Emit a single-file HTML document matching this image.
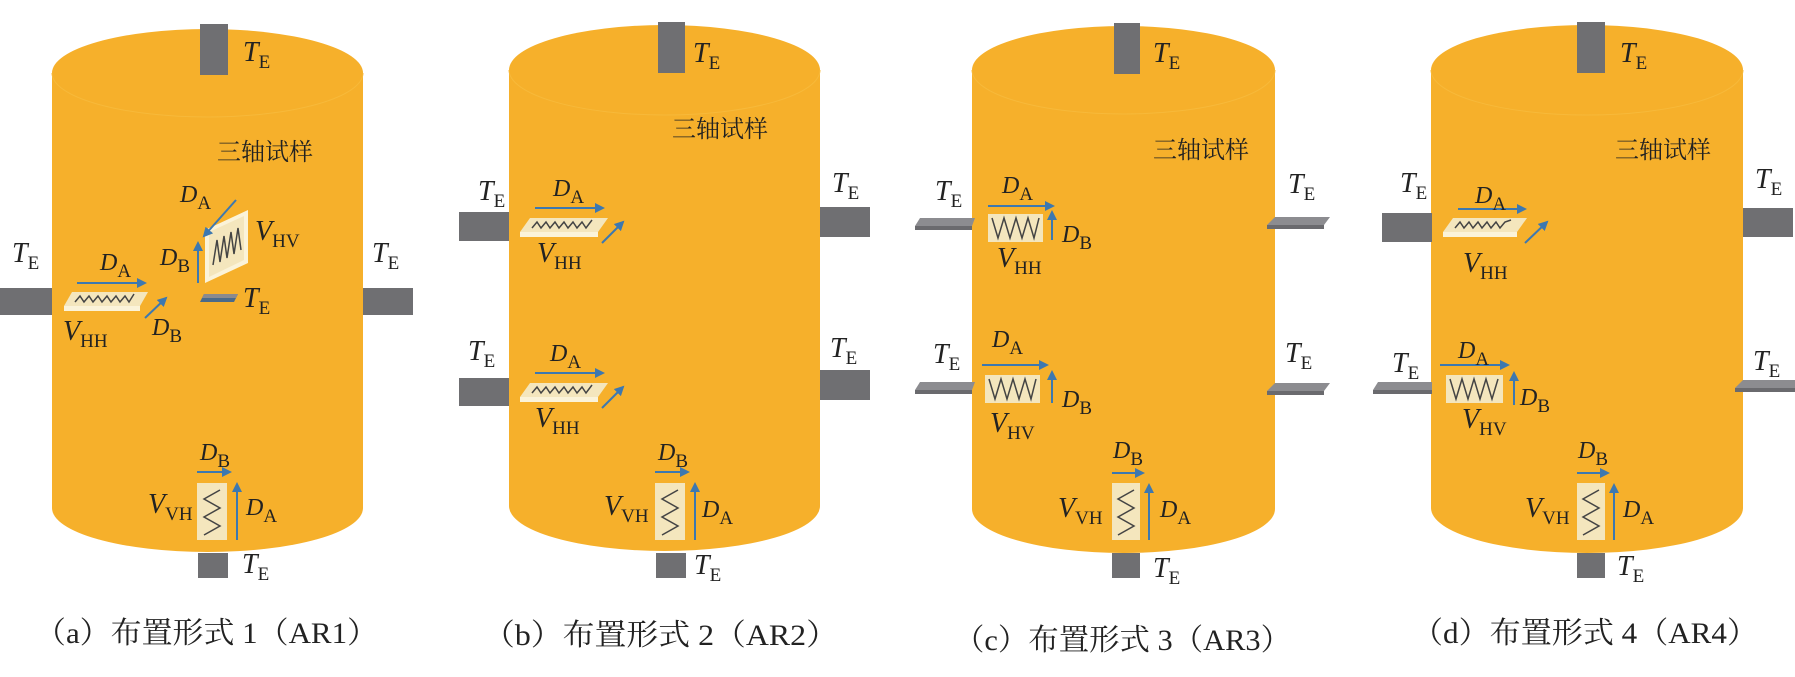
<!DOCTYPE html>
<html><head><meta charset="utf-8"><style>
body{margin:0;background:#fff}
svg{display:block}
.it{font-family:"Liberation Serif",serif;font-style:italic;font-size:28px;fill:#222}
.d{font-family:"Liberation Serif",serif;font-style:italic;font-size:24px;fill:#222}
.s{font-style:normal;font-size:19px}
.cn{font-family:"Liberation Serif","Noto Serif CJK SC",serif;font-size:24px;fill:#222}
.cap{font-family:"Liberation Serif","Noto Serif CJK SC",serif;font-size:30px;fill:#222}
.ar{stroke:#3d78b0;stroke-width:2;fill:none;marker-end:url(#ah)}
.tab{fill:#6f6f72}
.pl{fill:#f4e6bd}
.zz{stroke:#444;stroke-width:1.5;fill:none}
.cyl{fill:#f6b02b}
.rim{fill:none;stroke:#f7b93a;stroke-width:1}
</style></head><body>
<svg width="1795" height="677" viewBox="0 0 1795 677" xmlns="http://www.w3.org/2000/svg">
<defs><marker id="ah" viewBox="0 0 10 10" refX="8" refY="5" markerWidth="5" markerHeight="5" orient="auto"><path d="M0,0L10,5L0,10z" fill="#3d78b0"/></marker></defs>

<!-- ===== (a) ===== -->
<path class="cyl" d="M52,73 L52,508 A155.5,44 0 0 0 363,508 L363,73 A155.5,44 0 0 0 52,73Z"/>
<path class="rim" d="M52,73 A155.5,44 0 0 0 363,73"/>
<rect class="tab" x="200" y="24" width="28" height="51"/>
<text class="it" x="243" y="61">T<tspan class="s" dy="7">E</tspan></text>
<text class="cn" x="217" y="160">三轴试样</text>
<rect class="tab" x="0" y="288" width="52" height="27"/>
<rect class="tab" x="363" y="288" width="50" height="27"/>
<text class="it" x="12" y="262">T<tspan class="s" dy="7">E</tspan></text>
<text class="it" x="372" y="262">T<tspan class="s" dy="7">E</tspan></text>
<polygon class="pl" points="72,292 148,292 140,306 64,306"/>
<rect x="64" y="306" width="76" height="5" fill="#fbf3d9"/>
<polyline class="zz" points="75,302 80,296 84,302 89,296 93,302 98,296 102,302 107,296 111,302 116,296 120,302 125,296 129,302 134,294"/>
<line class="ar" x1="77" y1="283" x2="145" y2="283"/>
<text class="d" x="100" y="270">D<tspan class="s" dy="7">A</tspan></text>
<line class="ar" x1="145" y1="318" x2="166" y2="298"/>
<text class="d" x="152" y="335">D<tspan class="s" dy="7">B</tspan></text>
<text class="it" x="63" y="340">V<tspan class="s" dy="7">HH</tspan></text>
<polygon points="205,230 248,210 248,263 205,283" fill="#fbf3d9"/>
<polygon class="pl" points="209,232 244,216 244,260 209,277"/>
<polyline class="zz" points="213,265 217,240 220,262 224,236 227,258 231,232 234,254 238,228 241,250"/>
<line class="ar" x1="236" y1="200" x2="204" y2="236"/>
<text class="d" x="180" y="202">D<tspan class="s" dy="7">A</tspan></text>
<line class="ar" x1="198" y1="283" x2="198" y2="243"/>
<text class="d" x="160" y="265">D<tspan class="s" dy="7">B</tspan></text>
<text class="it" x="255" y="240">V<tspan class="s" dy="7">HV</tspan></text>
<polygon points="204,294 238,294 234,302 200,302" fill="#4a6a8a"/>
<polygon points="204,294 238,294 236,298 202,298" fill="#8a8a8e"/>
<text class="it" x="243" y="307">T<tspan class="s" dy="7">E</tspan></text>
<rect class="pl" x="197" y="483" width="30" height="57"/>
<polyline class="zz" points="220,490 204,499 220,508 204,517 220,526 204,535"/>
<line class="ar" x1="237" y1="540" x2="237" y2="484"/>
<line class="ar" x1="197" y1="472" x2="230" y2="472"/>
<text class="d" x="200" y="460">D<tspan class="s" dy="7">B</tspan></text>
<text class="it" x="148" y="513">V<tspan class="s" dy="7">VH</tspan></text>
<text class="d" x="246" y="515">D<tspan class="s" dy="7">A</tspan></text>
<rect class="tab" x="198" y="553" width="30" height="25"/>
<text class="it" x="242" y="573">T<tspan class="s" dy="7">E</tspan></text>
<text class="cap" x="35" y="643" textLength="343" lengthAdjust="spacingAndGlyphs">（a）布置形式 1（AR1）</text>

<!-- ===== (b) ===== -->
<path class="cyl" d="M509,70 L509,506 A155.5,45 0 0 0 820,506 L820,70 A155.5,45 0 0 0 509,70Z"/>
<path class="rim" d="M509,70 A155.5,45 0 0 0 820,70"/>
<rect class="tab" x="658" y="22" width="27" height="51"/>
<text class="it" x="693" y="62">T<tspan class="s" dy="7">E</tspan></text>
<text class="cn" x="672" y="137">三轴试样</text>
<rect class="tab" x="459" y="212" width="50" height="29"/>
<rect class="tab" x="459" y="378" width="50" height="28"/>
<rect class="tab" x="820" y="207" width="50" height="30"/>
<rect class="tab" x="820" y="370" width="50" height="30"/>
<text class="it" x="478" y="200">T<tspan class="s" dy="7">E</tspan></text>
<text class="it" x="468" y="360">T<tspan class="s" dy="7">E</tspan></text>
<text class="it" x="832" y="192">T<tspan class="s" dy="7">E</tspan></text>
<text class="it" x="830" y="357">T<tspan class="s" dy="7">E</tspan></text>
<g>
<polygon class="pl" points="530,218 608,218 598,232 520,232"/>
<rect x="520" y="232" width="78" height="5" fill="#fbf3d9"/>
<polyline class="zz" points="532,228 537,222 541,228 546,222 550,228 555,222 559,228 564,222 568,228 573,222 577,228 582,222 586,228 592,220"/>
<line class="ar" x1="535" y1="208" x2="603" y2="208"/>
<text class="d" x="553" y="196">D<tspan class="s" dy="7">A</tspan></text>
<line class="ar" x1="602" y1="243" x2="623" y2="222"/>
<text class="it" x="537" y="262">V<tspan class="s" dy="7">HH</tspan></text>
</g>
<g transform="translate(0,165)">
<polygon class="pl" points="530,218 608,218 598,232 520,232"/>
<rect x="520" y="232" width="78" height="5" fill="#fbf3d9"/>
<polyline class="zz" points="532,228 537,222 541,228 546,222 550,228 555,222 559,228 564,222 568,228 573,222 577,228 582,222 586,228 592,220"/>
<line class="ar" x1="535" y1="208" x2="603" y2="208"/>
<text class="d" x="550" y="196">D<tspan class="s" dy="7">A</tspan></text>
<line class="ar" x1="602" y1="243" x2="623" y2="222"/>
<text class="it" x="535" y="262">V<tspan class="s" dy="7">HH</tspan></text>
</g>
<g transform="translate(458,0)">
<rect class="pl" x="197" y="483" width="30" height="57"/>
<polyline class="zz" points="220,490 204,499 220,508 204,517 220,526 204,535"/>
<line class="ar" x1="237" y1="540" x2="237" y2="484"/>
<line class="ar" x1="197" y1="472" x2="230" y2="472"/>
<text class="d" x="200" y="460">D<tspan class="s" dy="7">B</tspan></text>
<text class="it" x="146" y="515">V<tspan class="s" dy="7">VH</tspan></text>
<text class="d" x="244" y="517">D<tspan class="s" dy="7">A</tspan></text>
<rect class="tab" x="198" y="553" width="30" height="25"/>
<text class="it" x="236" y="574">T<tspan class="s" dy="7">E</tspan></text>
</g>
<text class="cap" x="483" y="645" textLength="355" lengthAdjust="spacingAndGlyphs">（b）布置形式 2（AR2）</text>

<!-- ===== (c) ===== -->
<path class="cyl" d="M972,70 L972,509 A151.5,44 0 0 0 1275,509 L1275,70 A151.5,44 0 0 0 972,70Z"/>
<path class="rim" d="M972,70 A151.5,44 0 0 0 1275,70"/>
<rect class="tab" x="1114" y="23" width="26" height="51"/>
<text class="it" x="1153" y="62">T<tspan class="s" dy="7">E</tspan></text>
<text class="cn" x="1153" y="158">三轴试样</text>
<polygon points="920,218 975,218 972,226 915,226" fill="#8c8c90"/><polygon points="915,226 972,226 972,230 915,230" fill="#6a6a6e"/>
<polygon points="920,382 975,382 972,390 915,390" fill="#8c8c90"/><polygon points="915,390 972,390 972,394 915,394" fill="#6a6a6e"/>
<polygon points="1275,217 1330,217 1324,225 1267,225" fill="#8c8c90"/><polygon points="1267,225 1324,225 1324,229 1267,229" fill="#6a6a6e"/>
<polygon points="1275,383 1330,383 1324,391 1267,391" fill="#8c8c90"/><polygon points="1267,391 1324,391 1324,395 1267,395" fill="#6a6a6e"/>
<text class="it" x="935" y="200">T<tspan class="s" dy="7">E</tspan></text>
<text class="it" x="1288" y="193">T<tspan class="s" dy="7">E</tspan></text>
<text class="it" x="933" y="363">T<tspan class="s" dy="7">E</tspan></text>
<text class="it" x="1285" y="362">T<tspan class="s" dy="7">E</tspan></text>
<rect class="pl" x="988" y="214" width="55" height="28"/>
<polyline class="zz" points="992,218 998,238 1004,218 1010,238 1016,218 1022,238 1028,218 1034,238 1039,218"/>
<line class="ar" x1="988" y1="206" x2="1053" y2="206"/>
<text class="d" x="1002" y="193">D<tspan class="s" dy="7">A</tspan></text>
<line class="ar" x1="1052" y1="240" x2="1052" y2="212"/>
<text class="d" x="1062" y="242">D<tspan class="s" dy="7">B</tspan></text>
<text class="it" x="997" y="267">V<tspan class="s" dy="7">HH</tspan></text>
<rect class="pl" x="985" y="375" width="55" height="28"/>
<polyline class="zz" points="989,379 995,399 1001,379 1007,399 1013,379 1019,399 1025,379 1031,399 1036,379"/>
<line class="ar" x1="982" y1="365" x2="1047" y2="365"/>
<text class="d" x="992" y="347">D<tspan class="s" dy="7">A</tspan></text>
<line class="ar" x1="1052" y1="403" x2="1052" y2="372"/>
<text class="d" x="1062" y="407">D<tspan class="s" dy="7">B</tspan></text>
<text class="it" x="990" y="432">V<tspan class="s" dy="7">HV</tspan></text>
<g transform="translate(915,0)">
<rect class="pl" x="197" y="483" width="28" height="57"/>
<polyline class="zz" points="219,490 203,499 219,508 203,517 219,526 203,535"/>
<line class="ar" x1="234" y1="540" x2="234" y2="485"/>
<line class="ar" x1="197" y1="473" x2="228" y2="473"/>
<text class="d" x="198" y="458">D<tspan class="s" dy="7">B</tspan></text>
<text class="it" x="143" y="517">V<tspan class="s" dy="7">VH</tspan></text>
<text class="d" x="245" y="517">D<tspan class="s" dy="7">A</tspan></text>
<rect class="tab" x="197" y="553" width="28" height="25"/>
<text class="it" x="238" y="577">T<tspan class="s" dy="7">E</tspan></text>
</g>
<text class="cap" x="954" y="650" textLength="337" lengthAdjust="spacingAndGlyphs">（c）布置形式 3（AR3）</text>

<!-- ===== (d) ===== -->
<path class="cyl" d="M1431,70 L1431,508 A156,45 0 0 0 1743,508 L1743,70 A156,45 0 0 0 1431,70Z"/>
<path class="rim" d="M1431,70 A156,45 0 0 0 1743,70"/>
<rect class="tab" x="1577" y="22" width="28" height="51"/>
<text class="it" x="1620" y="62">T<tspan class="s" dy="7">E</tspan></text>
<text class="cn" x="1615" y="158">三轴试样</text>
<rect class="tab" x="1382" y="213" width="50" height="29"/>
<rect class="tab" x="1743" y="208" width="50" height="29"/>
<polygon points="1378,382 1432,382 1432,390 1373,390" fill="#8c8c90"/><polygon points="1373,390 1432,390 1432,394 1373,394" fill="#6a6a6e"/>
<polygon points="1743,380 1795,380 1795,388 1735,388" fill="#8c8c90"/><polygon points="1735,388 1795,388 1795,392 1735,392" fill="#6a6a6e"/>
<text class="it" x="1400" y="192">T<tspan class="s" dy="7">E</tspan></text>
<text class="it" x="1755" y="188">T<tspan class="s" dy="7">E</tspan></text>
<text class="it" x="1392" y="372">T<tspan class="s" dy="7">E</tspan></text>
<text class="it" x="1753" y="370">T<tspan class="s" dy="7">E</tspan></text>
<g transform="translate(923,0)">
<polygon class="pl" points="530,218 604,218 594,232 520,232"/>
<rect x="520" y="232" width="74" height="5" fill="#fbf3d9"/>
<polyline class="zz" points="532,228 537,222 541,228 546,222 550,228 555,222 559,228 564,222 568,228 573,222 577,228 582,222 588,220"/>
<line class="ar" x1="535" y1="209" x2="602" y2="209"/>
<text class="d" x="552" y="203">D<tspan class="s" dy="7">A</tspan></text>
<line class="ar" x1="602" y1="243" x2="624" y2="222"/>
<text class="it" x="540" y="272">V<tspan class="s" dy="7">HH</tspan></text>
</g>
<rect class="pl" x="1446" y="375" width="57" height="28"/>
<polyline class="zz" points="1450,379 1456,399 1462,379 1468,399 1474,379 1480,399 1486,379 1492,399 1498,379"/>
<line class="ar" x1="1440" y1="365" x2="1508" y2="365"/>
<text class="d" x="1458" y="358">D<tspan class="s" dy="7">A</tspan></text>
<line class="ar" x1="1514" y1="405" x2="1514" y2="373"/>
<text class="d" x="1520" y="405">D<tspan class="s" dy="7">B</tspan></text>
<text class="it" x="1462" y="428">V<tspan class="s" dy="7">HV</tspan></text>
<g transform="translate(1380,0)">
<rect class="pl" x="197" y="483" width="28" height="57"/>
<polyline class="zz" points="219,490 203,499 219,508 203,517 219,526 203,535"/>
<line class="ar" x1="234" y1="540" x2="234" y2="485"/>
<line class="ar" x1="197" y1="473" x2="228" y2="473"/>
<text class="d" x="198" y="458">D<tspan class="s" dy="7">B</tspan></text>
<text class="it" x="145" y="517">V<tspan class="s" dy="7">VH</tspan></text>
<text class="d" x="243" y="517">D<tspan class="s" dy="7">A</tspan></text>
<rect class="tab" x="197" y="553" width="28" height="25"/>
<text class="it" x="237" y="575">T<tspan class="s" dy="7">E</tspan></text>
</g>
<text class="cap" x="1412" y="643" textLength="346" lengthAdjust="spacingAndGlyphs">（d）布置形式 4（AR4）</text>
</svg>
</body></html>
